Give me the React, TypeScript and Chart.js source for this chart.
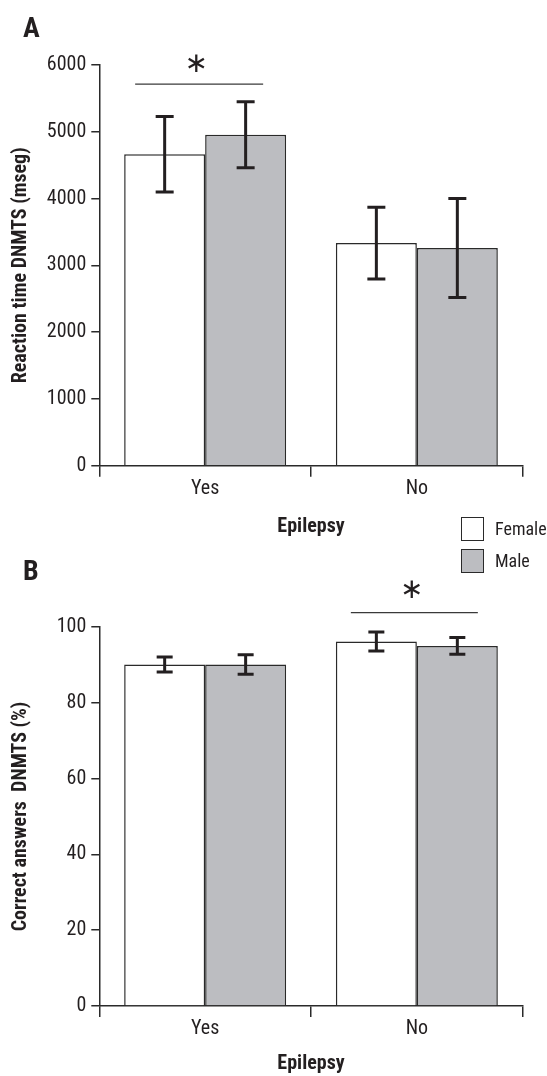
import React, { useEffect, useRef } from 'react';
import { Chart, registerables } from 'chart.js';

Chart.register(...registerables);

// ---------- data ----------
const categories = ['Yes', 'No'];
const seriesLabels = ['Female', 'Male'];

const reactionFemale = [4665, 3334];
const reactionMale = [4955, 3259];
const reactionFemaleErr = [565, 537];
const reactionMaleErr = [495, 741];
const reactionTicks = [0, 1000, 2000, 3000, 4000, 5000, 6000];

const correctFemale = [90.1, 96.2];
const correctMale = [90.1, 95.0];
const correctFemaleErr = [2.0, 2.5];
const correctMaleErr = [2.55, 2.2];
const correctTicks = [0, 20, 40, 60, 80, 100];

const reactionSignificant = 'Yes';
const correctSignificant = 'No';

// ---------- font detection ----------
function fontAvailable(name: string): boolean {
  try {
    const c = document.createElement('canvas').getContext('2d');
    if (!c) return false;
    const s = 'mmmmmmmmmmlli1WwQ0123456789abcdefghij';
    for (const base of ['monospace', 'serif']) {
      c.font = `40px ${base}`;
      const w0 = c.measureText(s).width;
      c.font = `40px '${name}', ${base}`;
      const w1 = c.measureText(s).width;
      if (Math.abs(w0 - w1) > 0.5) return true;
    }
  } catch (e) {
    return false;
  }
  return false;
}

const narrowCandidates = ['Liberation Sans Narrow', 'Roboto Condensed', 'Arial Narrow', 'Nimbus Sans Narrow', 'Open Sans Condensed'];
const narrowFound = narrowCandidates.find((n) => fontAvailable(n));
const FONT = narrowFound ? `'${narrowFound}', sans-serif` : "'DejaVu Sans Condensed', 'DejaVu Sans', sans-serif";
const SZ = narrowFound
  ? { tick: 20, title: 20, legend: 18, panel: 28 }
  : { tick: 16, title: 16.5, legend: 15, panel: 25 };

// ---------- styles ----------
const INK = '#231f20';
const AXIS = '#2a2a2a';
const FEMALE_FILL = '#ffffff';
const MALE_FILL = '#bcbdc1';

const errorBarPlugin = {
  id: 'errorBars',
  afterDatasetsDraw(chart: any, _args: any, opts: any) {
    const { ctx } = chart;
    const yScale = chart.scales.y;
    ctx.save();
    ctx.strokeStyle = opts.color;
    ctx.lineWidth = opts.width;
    chart.data.datasets.forEach((ds: any, i: number) => {
      const meta = chart.getDatasetMeta(i);
      const errs = opts.errors[i];
      meta.data.forEach((bar: any, j: number) => {
        const v = ds.data[j];
        const e = errs[j];
        const x = bar.x;
        const yt = yScale.getPixelForValue(v + e);
        const yb = yScale.getPixelForValue(v - e);
        const h = opts.cap / 2;
        ctx.beginPath();
        ctx.moveTo(x, yt);
        ctx.lineTo(x, yb);
        ctx.moveTo(x - h, yt);
        ctx.lineTo(x + h, yt);
        ctx.moveTo(x - h, yb);
        ctx.lineTo(x + h, yb);
        ctx.stroke();
      });
    });
    ctx.restore();
  },
};

const significancePlugin = {
  id: 'significance',
  afterDraw(chart: any, _args: any, opts: any) {
    const { ctx } = chart;
    const xScale = chart.scales.x;
    const yScale = chart.scales.y;
    const cx = xScale.getPixelForValue(categories.indexOf(opts.category));
    const ly = yScale.getPixelForValue(opts.lineValue);
    const sy = yScale.getPixelForValue(opts.starValue);
    ctx.save();
    ctx.strokeStyle = '#3a3a3a';
    ctx.lineWidth = 1.2;
    ctx.beginPath();
    ctx.moveTo(cx + opts.from, ly);
    ctx.lineTo(cx + opts.to, ly);
    ctx.stroke();
    ctx.fillStyle = INK;
    ctx.font = "28px 'DejaVu Sans', sans-serif";
    ctx.textAlign = 'center';
    ctx.textBaseline = 'middle';
    ctx.fillText('\u2217', cx + opts.star, sy);
    ctx.restore();
  },
};

type PanelCfg = {
  female: number[];
  male: number[];
  femaleErr: number[];
  maleErr: number[];
  ticks: number[];
  yTitle: string;
  height: number;
  areaTop: number;
  areaBottom: number;
  titleCenter: number;
  cap: number;
  sig: { category: string; lineValue: number; starValue: number; from: number; to: number; star: number };
};

function makeConfig(p: PanelCfg): any {
  const left = 99.3;
  const right = 522.7;
  const tickHalf = (SZ.tick * 1.2) / 2;
  const titleHalf = (SZ.title * 1.2) / 2;
  return {
    type: 'bar',
    data: {
      labels: categories,
      datasets: [
        {
          label: seriesLabels[0],
          data: p.female,
          backgroundColor: FEMALE_FILL,
          borderColor: AXIS,
          borderWidth: 1.5,
          categoryPercentage: 0.765,
          barPercentage: 1.0,
        },
        {
          label: seriesLabels[1],
          data: p.male,
          backgroundColor: MALE_FILL,
          borderColor: AXIS,
          borderWidth: 1.5,
          categoryPercentage: 0.765,
          barPercentage: 1.0,
        },
      ],
    },
    options: {
      animation: false,
      responsive: false,
      maintainAspectRatio: false,
      events: [],
      layout: { padding: { top: p.areaTop, right: 547 - right, bottom: 0, left: 0 } },
      plugins: {
        legend: { display: false },
        tooltip: { enabled: false },
        errorBars: { errors: [p.femaleErr, p.maleErr], color: INK, width: 3, cap: p.cap },
        significance: p.sig,
      },
      scales: {
        x: {
          type: 'category',
          afterFit: (s: any) => {
            s.height = p.height - p.areaBottom;
          },
          grid: {
            offset: true,
            drawOnChartArea: false,
            drawTicks: true,
            tickLength: 11,
            color: AXIS,
            lineWidth: 1.5,
          },
          border: { display: true, color: AXIS, width: 1.5 },
          ticks: { color: INK, font: { family: FONT, size: SZ.tick }, padding: 23.3 - 11 - tickHalf },
          title: {
            display: true,
            text: 'Epilepsy',
            color: INK,
            font: { family: FONT, size: SZ.title, weight: 'bold' },
            padding: { top: 0, bottom: p.height - p.titleCenter - titleHalf },
          },
        },
        y: {
          min: p.ticks[0],
          max: p.ticks[p.ticks.length - 1],
          afterFit: (s: any) => {
            s.width = left;
          },
          grid: {
            drawOnChartArea: false,
            drawTicks: true,
            tickLength: 8,
            color: AXIS,
            lineWidth: 1.5,
          },
          border: { display: true, color: AXIS, width: 1.5 },
          ticks: {
            stepSize: p.ticks[1] - p.ticks[0],
            color: INK,
            font: { family: FONT, size: SZ.tick },
            padding: 5,
            callback: (v: any) => String(v),
          },
          title: {
            display: true,
            text: p.yTitle,
            color: INK,
            font: { family: FONT, size: SZ.title, weight: 'bold' },
            padding: { top: 21 - titleHalf, bottom: 0 },
          },
        },
      },
    },
    plugins: [errorBarPlugin, significancePlugin],
  };
}

const panelA: PanelCfg = {
  female: reactionFemale,
  male: reactionMale,
  femaleErr: reactionFemaleErr,
  maleErr: reactionMaleErr,
  ticks: reactionTicks,
  yTitle: 'Reaction time DNMTS (mseg)',
  height: 548,
  areaTop: 65,
  areaBottom: 465.7,
  titleCenter: 526.5,
  cap: 18,
  sig: { category: reactionSignificant, lineValue: 5714, starValue: 6010, from: -70, to: 58, star: -9 },
};

const panelB: PanelCfg = {
  female: correctFemale,
  male: correctMale,
  femaleErr: correctFemaleErr,
  maleErr: correctMaleErr,
  ticks: correctTicks,
  yTitle: 'Correct answers  DNMTS (%)',
  height: 528,
  areaTop: 79,
  areaBottom: 458,
  titleCenter: 516,
  cap: 16,
  sig: { category: correctSignificant, lineValue: 103.8, starValue: 109.5, from: -66, to: 61, star: -5 },
};

function Panel({ cfg, top }: { cfg: PanelCfg; top: number }) {
  const ref = useRef<HTMLCanvasElement | null>(null);
  useEffect(() => {
    if (!ref.current) return;
    const chart = new Chart(ref.current, makeConfig(cfg));
    return () => chart.destroy();
  }, [cfg]);
  return (
    <canvas
      ref={ref}
      width={547}
      height={cfg.height}
      style={{ position: 'absolute', left: 0, top, width: 547, height: cfg.height, display: 'block' }}
    />
  );
}

const textBase: React.CSSProperties = {
  position: 'absolute',
  fontFamily: FONT,
  color: INK,
  whiteSpace: 'nowrap',
};

export default function App() {
  return (
    <div
      style={{
        position: 'absolute',
        left: 0,
        top: 0,
        width: 547,
        height: 1076,
        overflow: 'hidden',
        background: '#ffffff',
      }}
    >
      <Panel cfg={panelA} top={0} />
      <Panel cfg={panelB} top={548} />
      <div style={{ ...textBase, left: 23, top: 14.3, fontSize: SZ.panel, lineHeight: `${SZ.panel}px`, fontWeight: 'bold' }}>A</div>
      <div style={{ ...textBase, left: 23, top: 557.3, fontSize: SZ.panel, lineHeight: `${SZ.panel}px`, fontWeight: 'bold' }}>B</div>
      {/* legend */}
      <div
        style={{
          position: 'absolute',
          left: 461,
          top: 517,
          width: 23,
          height: 24,
          boxSizing: 'border-box',
          border: `1.5px solid ${AXIS}`,
          background: FEMALE_FILL,
        }}
      />
      <div style={{ ...textBase, left: 495, top: 517, fontSize: SZ.legend, lineHeight: '24px' }}>{seriesLabels[0]}</div>
      <div
        style={{
          position: 'absolute',
          left: 461,
          top: 549,
          width: 23,
          height: 24,
          boxSizing: 'border-box',
          border: `1.5px solid ${AXIS}`,
          background: MALE_FILL,
        }}
      />
      <div style={{ ...textBase, left: 495, top: 549, fontSize: SZ.legend, lineHeight: '24px' }}>{seriesLabels[1]}</div>
    </div>
  );
}
